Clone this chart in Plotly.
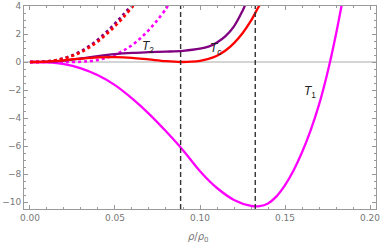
import plotly.graph_objects as go

# T1 solid (magenta)
t1_x = [0, 0.01, 0.02, 0.03, 0.04, 0.05, 0.06, 0.07, 0.08, 0.09, 0.10, 0.11, 0.12, 0.13, 0.135, 0.14, 0.145, 0.15, 0.155, 0.16, 0.165, 0.17, 0.175, 0.18, 0.1835]
t1_y = [0, -0.03, -0.15, -0.45, -0.95, -1.65, -2.6, -3.7, -4.95, -6.3, -7.8, -9.0, -9.85, -10.28, -10.3, -10.1, -9.6, -8.8, -7.75, -6.45, -4.9, -3.05, -0.75, 2.0, 4.2]

# T2 solid (purple)
t2_x = [0, 0.01, 0.02, 0.03, 0.04, 0.05, 0.06, 0.07, 0.08, 0.09, 0.10, 0.105, 0.11, 0.115, 0.12, 0.125, 0.127]
t2_y = [0, 0.02, 0.1, 0.25, 0.42, 0.56, 0.65, 0.7, 0.74, 0.8, 0.95, 1.1, 1.4, 1.85, 2.55, 3.65, 4.2]

# Tc solid (red)
tc_x = [0, 0.01, 0.02, 0.03, 0.04, 0.05, 0.06, 0.07, 0.08, 0.0886, 0.095, 0.10, 0.105, 0.11, 0.115, 0.12, 0.125, 0.13, 0.135, 0.136]
tc_y = [0, 0.03, 0.12, 0.24, 0.33, 0.35, 0.3, 0.18, 0.06, 0, 0.02, 0.08, 0.22, 0.45, 0.82, 1.35, 2.05, 2.95, 4.05, 4.2]

# dotted approximations
d2_x = [0, 0.005, 0.01, 0.015, 0.02, 0.025, 0.03, 0.035, 0.04, 0.045, 0.05, 0.055, 0.06]
d2_y = [0, 0.01, 0.05, 0.13, 0.27, 0.48, 0.78, 1.15, 1.6, 2.15, 2.75, 3.4, 4.1]
dc_x = [0, 0.005, 0.01, 0.015, 0.02, 0.025, 0.03, 0.035, 0.04, 0.045, 0.05, 0.055, 0.06, 0.0615]
dc_y = [0, 0.01, 0.05, 0.12, 0.25, 0.44, 0.7, 1.05, 1.47, 1.98, 2.55, 3.2, 3.9, 4.1]
d1_x = [0, 0.01, 0.02, 0.03, 0.035, 0.04, 0.045, 0.05, 0.055, 0.06, 0.065, 0.07, 0.075, 0.08, 0.0815]
d1_y = [0, 0.0, -0.01, 0.02, 0.06, 0.15, 0.3, 0.52, 0.82, 1.2, 1.7, 2.3, 3.0, 3.8, 4.1]

vlines = [0.0886, 0.1325]
labels = [("<i>T</i><sub>2</sub>", 0.0694, 1.07), ("<i>T</i><sub><i>c</i></sub>", 0.1095, 0.9), ("<i>T</i><sub>1</sub>", 0.1647, -2.12)]

MAG, PUR, RED = "#FF00FF", "#800080", "#FF0000"

fig = go.Figure()
fig.add_shape(type="line", xref="paper", x0=0, x1=1, yref="y", y0=0, y1=0, line=dict(color="#aaaaaa", width=1), layer="below")

def add(x, y, c, dash=None, w=2.3):
    fig.add_trace(go.Scatter(x=x, y=y, mode="lines", line=dict(color=c, width=w, shape="spline", dash=dash), showlegend=False, hoverinfo="skip"))

add(d2_x, d2_y, PUR, "dot", 2.6)
add(dc_x, dc_y, RED, "dot", 2.6)
add(d1_x, d1_y, MAG, "dot", 2.6)
add(t1_x, t1_y, MAG)
add(t2_x, t2_y, PUR)
add(tc_x, tc_y, RED)

for v in vlines:
    fig.add_shape(type="line", xref="x", x0=v, x1=v, yref="paper", y0=0, y1=1, line=dict(color="#333333", width=1.4, dash="5px,3px"))

for txt, x, y in labels:
    fig.add_annotation(x=x, y=y, text=txt, showarrow=False, font=dict(family="Liberation Sans, DejaVu Sans", size=12, color="#222"))

fig.add_annotation(xref="paper", yref="paper", x=0.497, y=-0.14, yanchor="middle", showarrow=False,
                   text="<i>ρ</i>/<i>ρ</i><sub>0</sub>", font=dict(family="DejaVu Sans", size=10, color="#777777"))

axcommon = dict(showline=True, linecolor="#999999", linewidth=1, mirror="allticks", ticks="inside",
                ticklen=4, tickcolor="#999999", showgrid=False, zeroline=False, automargin=False,
                tickfont=dict(family="DejaVu Sans, Liberation Sans", size=9, color="#777777"))
fig.update_xaxes(range=[-0.0035, 0.2035], tickvals=[0, 0.05, 0.1, 0.15, 0.2], tickformat=".2f",
                 minor=dict(ticks="inside", dtick=0.01, ticklen=2, tickcolor="#999999"),
                 **axcommon)
fig.update_yaxes(range=[-10.5, 4], tickvals=[-10, -8, -6, -4, -2, 0, 2, 4],
                 minor=dict(ticks="inside", dtick=0.5, tick0=0, ticklen=2, tickcolor="#999999"),
                 **axcommon)
fig.update_layout(width=382, height=245, margin=dict(l=24, r=6, t=6, b=36),
                  plot_bgcolor="white", paper_bgcolor="white")
fig.write_html("out.html", config={"displayModeBar": False, "staticPlot": True},
               post_script="document.body.style.margin='0';document.body.style.overflow='hidden';")
